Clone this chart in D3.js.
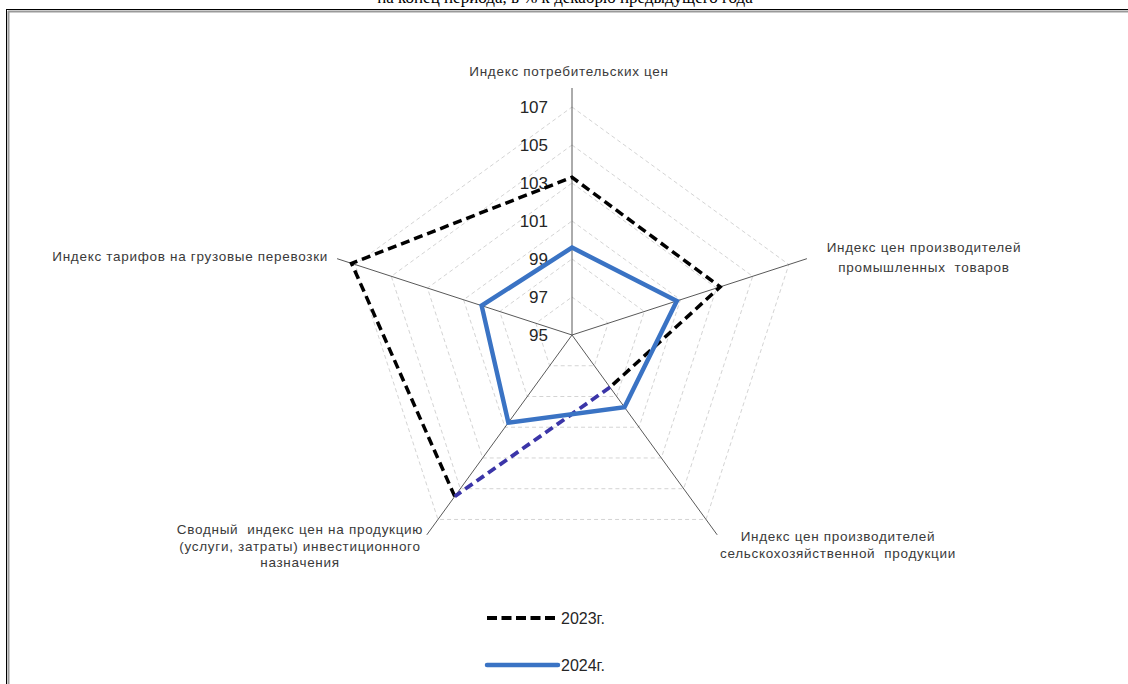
<!DOCTYPE html>
<html>
<head>
<meta charset="utf-8">
<script src="https://cdn.jsdelivr.net/npm/d3@7"></script>
<style>
  body { margin: 0; background: #fff; }
  svg { display: block; }
</style>
</head>
<body>
<script>
var w = 1128;
var h = 684;

// ---- data ----
var categories = [
    "Индекс потребительских цен",
    "Индекс цен производителей промышленных товаров",
    "Индекс цен производителей сельскохозяйственной продукции",
    "Сводный индекс цен на продукцию (услуги, затраты) инвестиционного назначения",
    "Индекс тарифов на грузовые перевозки"
];
var series2023 = [103.3, 103.2, 98.4, 105.5, 107.2];
var series2024 = [99.6, 100.8, 99.7, 100.7, 100.0];
var seriesNames = ["2023г.", "2024г."];
var tickValues = [95, 97, 99, 101, 103, 105, 107];
var axisMin = 95;
var axisMax = 108;

// point of 2023 whose incoming segment is drawn in another colour
var oddPoint2023 = 3;

// ---- layout ----
var cx = 572;
var cy = 335;
var radius = 247;

var labelFont = "Liberation Sans, Arial, sans-serif";
var textColor = "#3a3a3a";

var svg = d3.select("body")
    .append("svg")
    .attr("width", w)
    .attr("height", h);

// ---- frame and cut title ----
svg.append("text")
    .text("на конец периода, в % к декабрю предыдущего года")
    .attr("x", 565)
    .attr("y", 3)
    .attr("text-anchor", "middle")
    .attr("font-size", 17)
    .attr("font-family", "Liberation Serif, Times New Roman, serif")
    .attr("fill", "#000");

svg.append("line")
    .attr("x1", 6).attr("y1", 9.5).attr("x2", w).attr("y2", 9.5)
    .attr("stroke", "#000").attr("stroke-width", 1);
svg.append("line")
    .attr("x1", 8).attr("y1", 11.5).attr("x2", w).attr("y2", 11.5)
    .attr("stroke", "#9a9a9a").attr("stroke-width", 2);
svg.append("line")
    .attr("x1", 6.5).attr("y1", 9).attr("x2", 6.5).attr("y2", h)
    .attr("stroke", "#000").attr("stroke-width", 1);
svg.append("line")
    .attr("x1", 8.5).attr("y1", 11).attr("x2", 8.5).attr("y2", h)
    .attr("stroke", "#9a9a9a").attr("stroke-width", 2);

// ---- scales ----
var r = d3.scaleLinear()
    .domain([axisMin, axisMax])
    .range([0, radius]);

var angle = d3.scaleLinear()
    .domain([0, categories.length])
    .range([0, 2 * Math.PI]);

var g = svg.append("g")
    .attr("transform", "translate(" + cx + "," + cy + ")");

function px(i, v) { return Math.sin(angle(i)) * r(v); }
function py(i, v) { return -Math.cos(angle(i)) * r(v); }

// ---- grid rings ----
var ringLine = d3.lineRadial()
    .angle(function (d) { return angle(d.i); })
    .radius(function (d) { return r(d.v); })
    .curve(d3.curveLinearClosed);

tickValues.slice(1).forEach(function (t) {
    g.append("path")
        .attr("d", ringLine(categories.map(function (c, i) { return {i: i, v: t}; })))
        .attr("fill", "none")
        .attr("stroke", "#d4d4d4")
        .attr("stroke-width", 1)
        .attr("stroke-dasharray", "4,3");
});

// ---- spokes ----
categories.forEach(function (c, i) {
    g.append("line")
        .attr("x1", 0).attr("y1", 0)
        .attr("x2", px(i, axisMax)).attr("y2", py(i, axisMax))
        .attr("stroke", "#595959")
        .attr("stroke-width", 1);
});

// ---- tick labels ----
tickValues.forEach(function (t) {
    g.append("text")
        .text(t)
        .attr("x", -24)
        .attr("y", -r(t))
        .attr("dy", "0.36em")
        .attr("text-anchor", "end")
        .attr("font-size", 17)
        .attr("font-family", labelFont)
        .attr("fill", "#262626");
});

// ---- series ----
var n = categories.length;
var pointLine = d3.lineRadial()
    .angle(function (d) { return angle(d.i); })
    .radius(function (d) { return r(d.v); });

// 2023: open path that leaves out the segment into the odd point
var path2023 = [];
for (var k = 0; k < n; k++) {
    var idx = (oddPoint2023 + k) % n;
    path2023.push({i: idx, v: series2023[idx]});
}
g.append("path")
    .attr("d", pointLine(path2023))
    .attr("fill", "none")
    .attr("stroke", "#000")
    .attr("stroke-width", 3.5)
    .attr("stroke-dasharray", "9,5");

var a = (oddPoint2023 - 1 + n) % n;
g.append("path")
    .attr("d", pointLine([{i: a, v: series2023[a]}, {i: oddPoint2023, v: series2023[oddPoint2023]}]))
    .attr("fill", "none")
    .attr("stroke", "#3b35a8")
    .attr("stroke-width", 3.8)
    .attr("stroke-dasharray", "9,5");

var seriesLine = d3.lineRadial()
    .angle(function (d, i) { return angle(i); })
    .radius(function (d) { return r(d); })
    .curve(d3.curveLinearClosed);

g.append("path")
    .attr("d", seriesLine(series2024))
    .attr("fill", "none")
    .attr("stroke", "#3a73c4")
    .attr("stroke-width", 4.5)
    .attr("stroke-linejoin", "miter");

// ---- category labels ----
var labelLines = [
    ["Индекс потребительских цен"],
    ["Индекс цен производителей", "промышленных  товаров"],
    ["Индекс цен производителей", "сельскохозяйственной  продукции"],
    ["Сводный  индекс цен на продукцию", "(услуги, затраты) инвестиционного", "назначения"],
    ["Индекс тарифов на грузовые перевозки"]
];
var labelPos = [
    {x: 569, y: 76, step: 0, anchor: "middle"},
    {x: 924, y: 252, step: 20, anchor: "middle"},
    {x: 838, y: 541, step: 17, anchor: "middle"},
    {x: 300, y: 534, step: 16.5, anchor: "middle"},
    {x: 328, y: 261, step: 0, anchor: "end"}
];

labelLines.forEach(function (lines, i) {
    var t = svg.append("text")
        .attr("text-anchor", labelPos[i].anchor)
        .attr("font-size", 13.5)
        .attr("letter-spacing", 0.7)
        .attr("font-family", labelFont)
        .attr("fill", textColor);
    lines.forEach(function (s, k) {
        t.append("tspan")
            .attr("x", labelPos[i].x)
            .attr("y", labelPos[i].y + k * labelPos[i].step)
            .style("white-space", "pre")
            .text(s);
    });
});

// ---- legend ----
var legendY = [618, 665];
var legend = svg.append("g");

legend.append("line")
    .attr("x1", 487).attr("x2", 558)
    .attr("y1", legendY[0]).attr("y2", legendY[0])
    .attr("stroke", "#000")
    .attr("stroke-width", 4)
    .attr("stroke-dasharray", "10,4.5");

legend.append("line")
    .attr("x1", 487).attr("x2", 558)
    .attr("y1", legendY[1]).attr("y2", legendY[1])
    .attr("stroke", "#3a73c4")
    .attr("stroke-width", 4.5)
    .attr("stroke-linecap", "round");

seriesNames.forEach(function (s, i) {
    legend.append("text")
        .text(s)
        .attr("x", 561)
        .attr("y", legendY[i])
        .attr("dy", "0.36em")
        .attr("font-size", 16)
        .attr("font-family", labelFont)
        .attr("fill", "#262626");
});
</script>
</body>
</html>
